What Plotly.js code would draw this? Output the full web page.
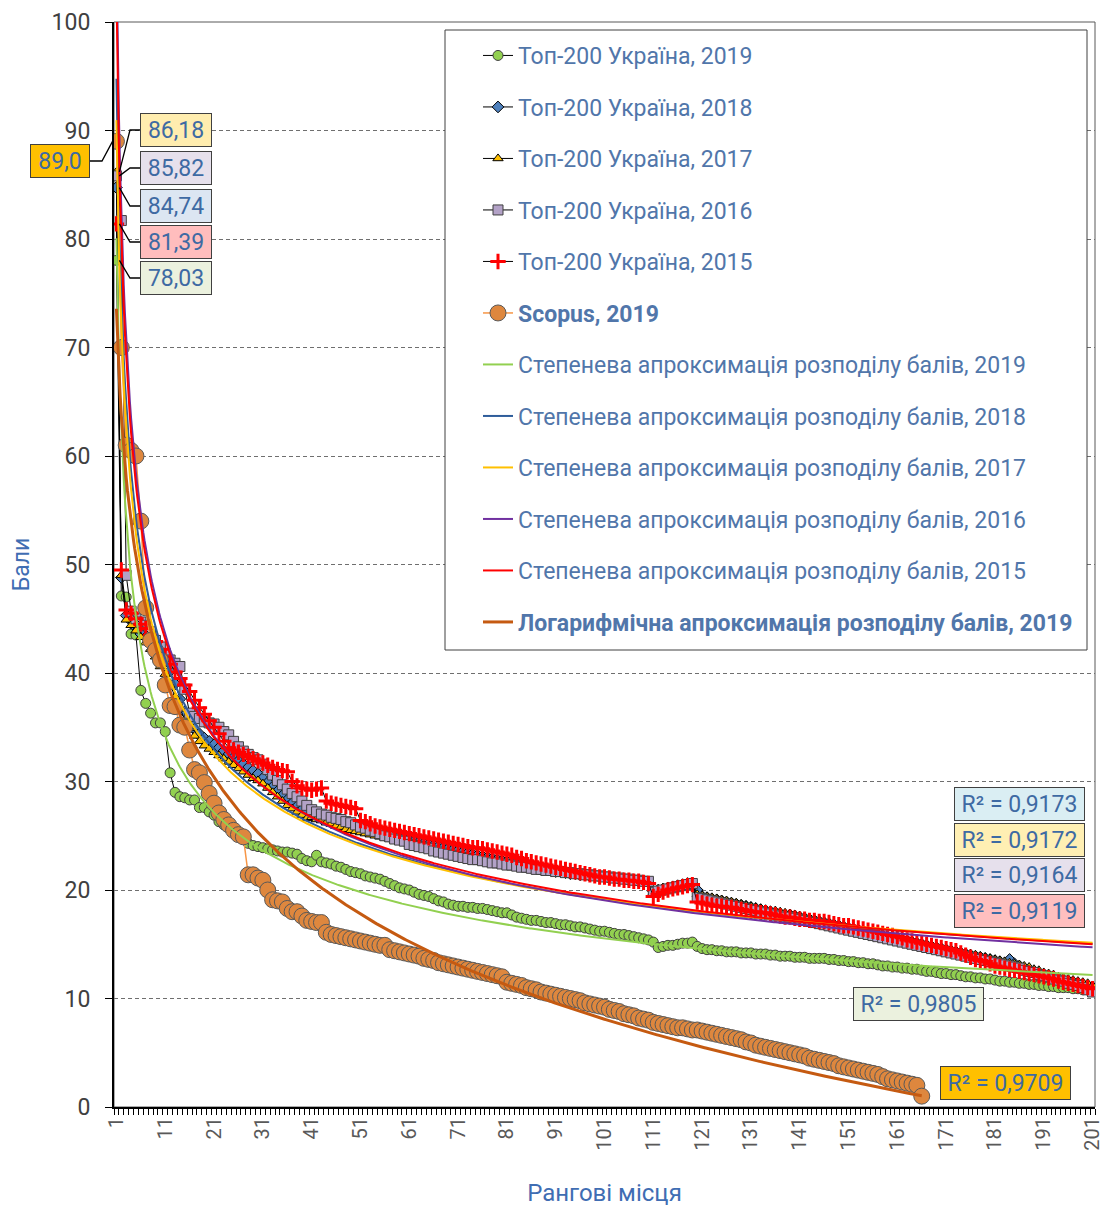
<!DOCTYPE html>
<html><head><meta charset="utf-8">
<script src="https://cdn.plot.ly/plotly-3.0.1.min.js"></script>
<style>html,body{margin:0;padding:0;background:#fff;}#chart{width:1106px;height:1207px;}</style>
</head><body><div id="chart"></div>
<script>
// ---------- DATA ----------
const top2019 = [
78.03,47.1,47.0,43.6,43.5,38.4,37.2,36.3,35.4,35.4,
34.6,30.8,29.0,28.6,28.5,28.3,28.3,27.6,27.6,27.2,
26.9,26.3,26.0,25.8,25.5,25.3,24.8,24.3,24.1,24.0,
23.9,23.8,23.7,23.6,23.5,23.5,23.4,23.3,22.9,22.7,
22.6,23.2,22.6,22.5,22.4,22.2,22.1,21.9,21.7,21.6,
21.5,21.3,21.2,21.1,21.0,20.8,20.6,20.4,20.2,20.1,
20.0,19.8,19.6,19.5,19.4,19.2,19.0,18.9,18.7,18.6,
18.5,18.5,18.4,18.4,18.3,18.3,18.2,18.1,18.0,17.9,
17.9,17.7,17.5,17.4,17.3,17.2,17.2,17.1,17.0,17.0,
16.9,16.8,16.8,16.7,16.6,16.6,16.5,16.4,16.3,16.2,
16.2,16.1,16.0,15.9,15.9,15.8,15.7,15.6,15.5,15.4,
15.2,14.7,14.8,14.9,14.9,15.0,15.1,15.1,15.2,14.8,
14.6,14.5,14.5,14.4,14.4,14.3,14.3,14.3,14.2,14.2,
14.2,14.1,14.1,14.1,14.0,14.0,13.9,13.9,13.9,13.8,
13.8,13.8,13.7,13.7,13.7,13.7,13.6,13.6,13.5,13.5,
13.4,13.4,13.3,13.3,13.2,13.2,13.1,13.0,13.0,12.9,
12.9,12.8,12.8,12.7,12.7,12.6,12.5,12.5,12.4,12.3,
12.3,12.2,12.2,12.1,12.0,12.0,11.9,11.9,11.8,11.8,
11.7,11.6,11.6,11.5,11.5,11.4,11.4,11.3,11.3,11.2,
11.2,11.1,11.1,11.0,11.0,11.0,10.9,10.9,10.8,10.8,
10.7];
const top2018 = [
84.74,48.8,45.3,44.8,44.2,43.6,43.3,42.8,42.3,41.8,
41.0,40.2,39.0,37.6,36.4,35.4,34.8,34.4,34.0,33.7,
33.4,33.1,32.8,32.5,32.2,31.9,31.6,31.3,31.0,30.7,
30.3,29.9,29.5,29.1,28.7,28.3,28.0,27.7,27.4,27.2,
27.0,26.8,26.6,26.4,26.2,26.1,26.0,25.9,25.8,25.7,
25.6,25.5,25.4,25.3,25.2,25.1,25.0,24.9,24.8,24.7,
24.6,24.5,24.4,24.3,24.2,24.1,24.0,23.9,23.8,23.7,
23.6,23.5,23.4,23.3,23.2,23.1,23.0,22.9,22.8,22.7,
22.6,22.5,22.4,22.3,22.2,22.1,22.0,21.9,21.9,21.8,
21.7,21.7,21.6,21.5,21.5,21.4,21.4,21.3,21.3,21.2,
21.2,21.1,21.1,21.0,21.0,20.9,20.9,20.8,20.8,20.7,
19.9,20.0,20.1,20.2,20.3,20.4,20.5,20.6,20.6,20.0,
19.4,19.3,19.2,19.1,19.0,18.9,18.8,18.7,18.6,18.5,
18.4,18.3,18.2,18.1,18.0,17.9,17.8,17.7,17.7,17.6,
17.5,17.4,17.3,17.2,17.1,17.0,16.9,16.8,16.7,16.6,
16.5,16.4,16.3,16.2,16.1,16.0,15.9,15.8,15.7,15.6,
15.5,15.4,15.3,15.2,15.1,15.0,14.9,14.8,14.7,14.6,
14.5,14.4,14.3,14.2,14.1,14.0,13.9,13.8,13.7,13.6,
13.5,13.4,13.3,13.6,13.2,13.0,12.8,12.6,12.4,12.3,
12.1,12.0,11.9,11.8,11.6,11.5,11.4,11.3,11.2,11.1,
11.0];
const top2017 = [
86.18,49.0,44.9,44.4,43.9,43.3,42.8,42.2,41.5,40.6,
39.9,38.9,37.8,36.7,35.7,34.9,34.2,33.7,33.3,33.0,
32.7,32.4,32.1,31.8,31.5,31.2,30.9,30.6,30.3,30.1,
29.8,29.4,29.0,28.6,28.2,27.8,27.5,27.2,26.9,26.6,
26.7,26.5,26.4,26.2,26.1,25.9,25.8,25.6,25.5,25.4,
25.3,25.2,25.1,25.0,24.9,24.8,24.7,24.6,24.5,24.4,
24.2,24.1,24.0,23.9,23.8,23.7,23.6,23.5,23.4,23.3,
23.2,23.1,23.0,22.9,22.8,22.7,22.6,22.6,22.5,22.4,
22.2,22.2,22.1,22.0,22.0,21.9,21.8,21.8,21.7,21.7,
21.6,21.6,21.5,21.5,21.4,21.4,21.3,21.3,21.2,21.2,
21.1,21.1,21.0,21.0,20.9,20.9,20.8,20.8,20.7,20.7,
19.8,20.0,20.2,20.3,20.4,20.5,20.6,20.7,20.7,19.6,
19.5,19.4,19.3,19.2,19.1,19.0,18.9,18.8,18.7,18.6,
18.5,18.4,18.3,18.2,18.1,18.1,18.0,17.9,17.8,17.7,
17.6,17.5,17.4,17.3,17.2,17.1,17.0,16.9,16.8,16.7,
16.6,16.5,16.4,16.3,16.2,16.1,16.0,15.9,15.8,15.7,
15.6,15.5,15.4,15.3,15.2,15.1,15.0,14.9,14.8,14.7,
14.6,14.5,14.4,14.3,14.2,14.1,14.0,13.9,13.8,13.7,
13.6,13.5,13.4,13.3,13.2,13.1,13.0,12.9,12.7,12.6,
12.4,12.3,12.2,12.0,11.9,11.8,11.7,11.6,11.5,11.4,
11.2];
const top2016 = [
85.82,81.7,49.0,45.7,45.0,44.7,44.4,43.8,43.0,42.4,
41.8,41.2,40.9,40.6,38.5,36.3,36.0,35.8,35.5,35.4,
35.3,35.0,34.6,34.3,33.7,33.2,32.8,32.5,32.2,32.0,
31.6,31.1,30.6,30.1,29.7,29.3,28.9,28.6,28.2,27.8,
27.4,27.2,27.0,26.9,26.7,26.6,26.5,26.3,26.2,26.0,
25.8,25.7,25.5,25.4,25.2,25.0,24.9,24.7,24.6,24.5,
24.2,24.1,24.0,23.9,23.8,23.6,23.5,23.4,23.3,23.2,
23.1,23.0,22.9,22.8,22.8,22.7,22.6,22.5,22.5,22.4,
22.3,22.3,22.2,22.1,22.1,22.0,21.9,21.9,21.8,21.8,
21.7,21.7,21.6,21.6,21.5,21.5,21.4,21.4,21.3,21.3,
21.2,21.2,21.1,21.1,21.0,21.0,20.9,20.9,20.8,20.8,
19.8,19.9,20.0,20.1,20.2,20.3,20.4,20.5,20.6,19.3,
19.2,19.1,19.0,18.9,18.8,18.7,18.6,18.5,18.4,18.3,
18.2,18.1,18.0,17.9,17.8,17.7,17.6,17.5,17.5,17.4,
17.3,17.2,17.1,17.0,16.9,16.8,16.7,16.6,16.5,16.4,
16.3,16.2,16.1,16.0,15.9,15.8,15.7,15.6,15.5,15.4,
15.3,15.2,15.1,15.0,14.9,14.8,14.7,14.6,14.5,14.4,
14.3,14.2,14.1,14.0,13.9,13.8,13.7,13.6,13.5,13.4,
13.3,13.2,13.1,13.0,12.9,12.8,12.6,12.5,12.4,12.2,
12.1,12.0,11.8,11.7,11.6,11.4,11.3,11.2,11.0,10.8,
10.6];
const top2015 = [
81.39,49.5,45.8,45.5,45.0,44.5,44.1,43.5,42.9,42.2,
41.5,40.8,40.1,39.5,38.9,38.3,37.5,36.8,36.2,35.6,
35.0,34.4,33.7,33.1,32.9,32.7,32.5,32.3,32.1,31.9,
31.7,31.5,31.3,31.1,31.0,30.9,30.0,29.6,29.4,29.3,
29.2,29.3,29.4,28.2,28.0,27.9,27.8,27.7,27.6,27.5,
26.4,26.3,26.1,25.9,25.8,25.7,25.6,25.5,25.4,25.3,
25.2,25.1,25.0,24.9,24.8,24.7,24.6,24.5,24.4,24.3,
24.2,24.1,24.0,23.9,23.9,23.8,23.7,23.6,23.5,23.4,
23.3,23.2,23.0,22.9,22.7,22.6,22.5,22.4,22.3,22.2,
22.1,22.0,21.9,21.8,21.7,21.6,21.5,21.4,21.3,21.2,
21.2,21.1,21.0,21.0,20.9,20.9,20.8,20.8,20.7,20.6,
19.4,19.6,19.8,20.0,20.1,20.2,20.3,20.4,20.5,18.9,
18.8,18.7,18.6,18.5,18.5,18.4,18.4,18.3,18.2,18.1,
18.0,18.0,17.9,17.9,17.8,17.7,17.6,17.5,17.5,17.4,
17.3,17.3,17.2,17.2,17.1,17.1,17.0,16.9,16.8,16.7,
16.7,16.6,16.5,16.4,16.3,16.2,16.1,16.0,15.9,15.8,
15.7,15.6,15.4,15.3,15.2,15.1,15.0,14.9,14.8,14.7,
14.6,14.5,14.4,14.2,14.0,13.8,13.6,13.5,13.4,13.2,
13.0,12.9,12.8,12.7,12.6,12.5,12.4,12.3,12.2,12.1,
12.0,11.9,11.8,11.6,11.5,11.4,11.3,11.2,11.1,11.0,
10.9];
const scopus2019 = [
89.0,70.0,61.0,60.5,60.0,54.0,46.0,43.0,42.1,41.2,
38.9,37.0,36.9,35.2,35.0,32.9,31.1,30.8,29.9,28.9,
28.0,27.1,26.5,26.0,25.5,25.1,24.9,21.4,21.4,21.1,
20.9,20.0,19.1,19.0,18.9,18.3,18.0,18.0,17.6,17.2,
17.1,17.0,17.0,16.1,15.9,15.8,15.7,15.6,15.5,15.4,
15.3,15.2,15.1,15.0,14.9,14.9,14.5,14.4,14.3,14.2,
14.1,14.0,13.9,13.7,13.6,13.5,13.3,13.2,13.1,13.0,
12.9,12.8,12.7,12.6,12.5,12.4,12.3,12.2,12.1,12.0,
11.5,11.4,11.3,11.2,11.0,10.9,10.8,10.6,10.5,10.4,
10.3,10.2,10.1,10.0,9.9,9.8,9.6,9.5,9.4,9.3,
9.2,9.0,8.9,8.8,8.6,8.5,8.4,8.2,8.1,8.0,
7.8,7.7,7.6,7.5,7.4,7.3,7.3,7.2,7.1,7.1,
7.0,6.9,6.8,6.7,6.6,6.5,6.4,6.3,6.2,6.0,
5.9,5.7,5.6,5.5,5.4,5.3,5.2,5.1,5.0,4.9,
4.8,4.7,4.5,4.4,4.3,4.2,4.1,4.0,3.8,3.7,
3.6,3.5,3.4,3.3,3.2,3.1,3.0,2.8,2.6,2.5,
2.4,2.3,2.2,2.1,2.0,1.0];
const xTickVals = [1,11,21,31,41,51,61,71,81,91,101,111,121,131,141,151,161,171,181,191,201];
const seriesNames = ['Топ-200 Україна, 2019','Топ-200 Україна, 2018','Топ-200 Україна, 2017','Топ-200 Україна, 2016','Топ-200 Україна, 2015'];
const trendNames = ['Степенева апроксимація розподілу балів, 2019','Степенева апроксимація розподілу балів, 2018','Степенева апроксимація розподілу балів, 2017','Степенева апроксимація розподілу балів, 2016','Степенева апроксимація розподілу балів, 2015'];
const r2Labels = ['R² = 0,9173','R² = 0,9172','R² = 0,9164','R² = 0,9119','R² = 0,9805','R² = 0,9709'];

// ---------- helpers ----------
const ranks = n => Array.from({length:n},(_,i)=>i+1);
function powerFit(y){ // Excel power trendline: ln y = A + b ln x
  let n=0,sx=0,sy=0,sxx=0,sxy=0;
  y.forEach((v,i)=>{const lx=Math.log(i+1),ly=Math.log(v);n++;sx+=lx;sy+=ly;sxx+=lx*lx;sxy+=lx*ly;});
  const b=(n*sxy-sx*sy)/(n*sxx-sx*sx), A=(sy-b*sx)/n; return x=>Math.exp(A)*Math.pow(x,b);
}
function logFit(y){ // y = c + d ln x
  let n=0,sx=0,sy=0,sxx=0,sxy=0;
  y.forEach((v,i)=>{const lx=Math.log(i+1);n++;sx+=lx;sy+=v;sxx+=lx*lx;sxy+=lx*v;});
  const d=(n*sxy-sx*sy)/(n*sxx-sx*sx), c=(sy-d*sx)/n; return x=>c+d*Math.log(x);
}
function sampleX(n){const a=[];for(let x=1;x<=n+1e-9;x+=0.25)a.push(x);return a;}

const FONT='Roboto, "Noto Sans", sans-serif';
const LEG='#5176AA';
const dataSets=[top2019,top2018,top2017,top2016,top2015];
const markers=[
  {symbol:'circle',size:10,color:'#92D050',line:{color:'#3F3F3F',width:1}},
  {symbol:'diamond',size:9,color:'#4F81BD',line:{color:'#000',width:1}},
  {symbol:'triangle-up',size:9,color:'#FFC000',line:{color:'#000',width:1}},
  {symbol:'square',size:10,color:'#B3A2C7',line:{color:'#3F3F3F',width:1}},
  {symbol:'cross-thin',size:11,color:'#FF0000',line:{color:'#FF0000',width:3}}
];
const trendColors=['#92D050','#2E5C9A','#FFC000','#7030A0','#FF0000'];

const traces=[];
dataSets.forEach((d,k)=>{
  traces.push({type:'scatter',mode:'lines+markers',x:ranks(d.length),y:d,name:seriesNames[k],
    legendgroup:'g'+k,line:{color:'#000',width:1},marker:markers[k]});
});
traces.push({type:'scatter',mode:'lines+markers',x:ranks(scopus2019.length),y:scopus2019,
  name:'<b>Scopus, 2019</b>',legendgroup:'g5',line:{color:'#F79646',width:1.5},
  marker:{symbol:'circle',size:16,color:'#DE873E',line:{color:'#595959',width:1}}});
dataSets.forEach((d,k)=>{
  const f=powerFit(d), xs=sampleX(d.length);
  traces.push({type:'scatter',mode:'lines',x:xs,y:xs.map(f),name:trendNames[k],
    legendgroup:'g'+(6+k),line:{color:trendColors[k],width:2},hoverinfo:'skip'});
});
{
  const f=logFit(scopus2019), xs=sampleX(scopus2019.length);
  traces.push({type:'scatter',mode:'lines',x:xs,y:xs.map(f),
    name:'<b>Логарифмічна апроксимація розподілу балів, 2019</b>',legendgroup:'g11',
    line:{color:'#C55A11',width:3},hoverinfo:'skip'});
}

// pixel <-> paper helpers for layout decorations
const L=114,R=1095,T=22,B=1107;
const px2x=p=>(p-L)/(R-L), py2y=p=>(B-p)/(B-T);
const ptX=r=>(r-0.5)/201, ptY=v=>v/100;
const fmt=(v,d)=>v.toFixed(d).replace('.',',');

const labelBoxes=[ // [text, left px, centre y px, bg, value, side]
  [fmt(scopus2019[0],1),30,161,'#FFC000',scopus2019[0],'left'],
  [fmt(top2017[0],2),140,130,'#FFEDAF',top2017[0],'right'],
  [fmt(top2016[0],2),140,168,'#E6E0EC',top2016[0],'right'],
  [fmt(top2018[0],2),140,206,'#DCE6F2',top2018[0],'right'],
  [fmt(top2015[0],2),140,242,'#FFBDBD',top2015[0],'right'],
  [fmt(top2019[0],2),140,278,'#EBF1DE',top2019[0],'right']
];
const annotations=[], shapes=[];
labelBoxes.forEach(([t,lx,cy,bg,v,side])=>{
  const w = side==='left'?56:68;
  annotations.push({xref:'paper',yref:'paper',x:px2x(lx),y:py2y(cy),xanchor:'left',yanchor:'middle',
    text:t,showarrow:false,width:w,height:30,borderpad:1,bgcolor:bg,bordercolor:'#404040',borderwidth:1,
    font:{family:FONT,size:23,color:'#3E6AA3'}});
  const x0 = side==='left'? px2x(lx+w+4) : px2x(lx);
  const x1 = side==='left'? px2x(lx+w+16) : px2x(lx-10);
  const xp = ptX(1)+ (side==='left'?-0.004:0.003);
  shapes.push({type:'path',xref:'paper',yref:'paper',layer:'above',
    path:`M${x0},${py2y(cy)} L${x1},${py2y(cy)} L${xp},${ptY(v)}`,line:{color:'#000',width:1.3}});
});
const r2Boxes=[[954,804,'#DAEEF3'],[954,840,'#FFEFB3'],[954,875,'#E6E0EC'],[954,911,'#FFBFBF'],[853,1004,'#EBF1DE'],[940,1083,'#FFC000']];
r2Boxes.forEach(([lx,cy,bg],i)=>{
  annotations.push({xref:'paper',yref:'paper',x:px2x(lx),y:py2y(cy),xanchor:'left',yanchor:'middle',
    text:r2Labels[i],showarrow:false,width:127,height:30,borderpad:1,bgcolor:bg,bordercolor:'#404040',borderwidth:1,
    font:{family:FONT,size:23,color:'#3E6AA3'}});
});
// plot border and opaque legend frame (legend itself is drawn above shapes)
shapes.push({type:'rect',xref:'paper',yref:'paper',x0:0,x1:1,y0:0,y1:1,layer:'below',line:{color:'#595959',width:1}});
shapes.push({type:'rect',xref:'paper',yref:'paper',x0:px2x(445),x1:px2x(1087),y0:py2y(30),y1:py2y(650),layer:'above',
  fillcolor:'#FFFFFF',line:{color:'#404040',width:1}});

const layout={
  width:1106,height:1207,margin:{l:L,r:1106-R,t:T,b:1207-B},
  paper_bgcolor:'#fff',plot_bgcolor:'#fff',font:{family:FONT,color:'#404040'},
  showlegend:true,
  legend:{x:px2x(478),y:py2y(34),xanchor:'left',yanchor:'top',bgcolor:'rgba(255,255,255,0)',borderwidth:0,
    traceorder:'grouped',tracegroupgap:18.6,font:{family:FONT,size:23,color:LEG}},
  xaxis:{range:[0.5,201.5],tickmode:'array',tickvals:xTickVals,ticktext:xTickVals.map(String),ticks:'',
    tickangle:-90,tickfont:{family:FONT,size:20,color:'#595959'},showgrid:false,zeroline:false,
    showline:true,linecolor:'#000',linewidth:2,
    minor:{tick0:0.5,dtick:1,ticks:'outside',ticklen:6,tickcolor:'#000',tickwidth:1,showgrid:false},
    title:{text:'Рангові місця',font:{family:FONT,size:24,color:'#3F6DB3'},standoff:36}},
  yaxis:{range:[0,100],dtick:10,ticks:'outside',ticklen:7,tickcolor:'#000',ticklabelstandoff:10,
    tickfont:{family:FONT,size:23,color:'#404040'},showgrid:true,gridcolor:'#6F6F6F',griddash:'4px,3px',gridwidth:1,
    zeroline:false,showline:true,linecolor:'#000',linewidth:2,
    title:{text:'Бали',font:{family:FONT,size:23,color:'#3F6DB3'},standoff:16}},
  annotations:annotations,shapes:shapes
};
Plotly.newPlot('chart',traces,layout,{displayModeBar:false,staticPlot:true});
</script></body></html>
